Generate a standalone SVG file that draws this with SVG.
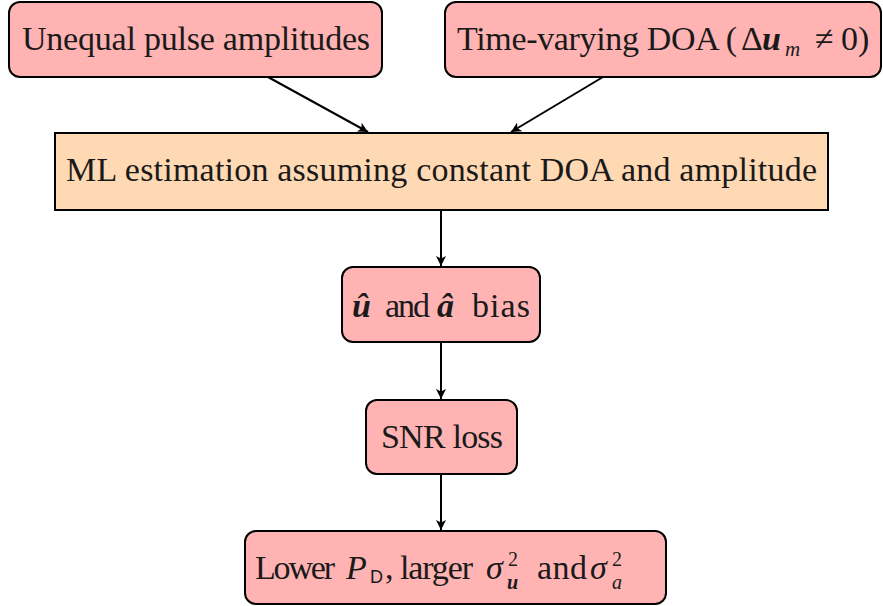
<svg xmlns="http://www.w3.org/2000/svg" width="883" height="606" viewBox="0 0 883 606">
  <defs>
    <marker id="arrow" viewBox="0 0 10 10" refX="10" refY="5" markerWidth="10" markerHeight="10" markerUnits="userSpaceOnUse" orient="auto">
      <path d="M0,0 L10,5 L0,10 L2.5,5 Z" fill="#000"/>
    </marker>
  </defs>
  <style>
    .red { fill: #ffb3b3; stroke: #000; stroke-width: 2; }
    .orange { fill: #ffd9b3; stroke: #000; stroke-width: 2; }
    text { font-family: "Liberation Serif", "DejaVu Serif", serif; font-size: 34px; fill: #1a1a1a; }
    .it { font-style: italic; }
    .bi { font-style: italic; font-weight: bold; }
    .sm { font-size: 21px; }
    .xs { font-size: 20px; }
    .sf { font-family: "Liberation Sans", "DejaVu Sans", sans-serif; font-size: 18px; }
    .edge { stroke: #000; stroke-width: 2; fill: none; marker-end: url(#arrow); }
  </style>

  <g id="connectors">
    <line class="edge" x1="268" y1="77" x2="368" y2="132"/>
    <line class="edge" x1="603" y1="77" x2="511" y2="132"/>
    <line class="edge" x1="441" y1="210" x2="441" y2="266"/>
    <line class="edge" x1="441" y1="342" x2="441" y2="399"/>
    <line class="edge" x1="441" y1="474" x2="441" y2="530"/>
  </g>

  <g id="unequal-amplitudes">
    <rect class="red" x="9" y="2" width="373" height="75" rx="11"/>
    <text x="22" y="50" textLength="348">Unequal pulse amplitudes</text>
  </g>

  <g id="time-varying-doa">
    <rect class="red" x="445" y="2" width="436" height="75" rx="11"/>
    <text x="457" y="50" textLength="280">Time-varying DOA (</text>
    <text x="741" y="50">Δ</text>
    <text class="bi" x="762" y="50">u</text>
    <text class="it sm" x="785" y="56">m</text>
    <text x="815" y="50">≠</text>
    <text x="841" y="50">0)</text>
  </g>

  <g id="ml-estimation">
    <rect class="orange" x="55" y="133" width="773" height="77"/>
    <text x="66" y="181" textLength="751">ML estimation assuming constant DOA and amplitude</text>
  </g>

  <g id="bias">
    <rect class="red" x="342" y="267" width="198" height="75" rx="11"/>
    <text class="bi" x="352" y="317">û</text>
    <text x="385" y="317" textLength="45">and</text>
    <text class="bi" x="437" y="317">â</text>
    <text x="472" y="317" textLength="58">bias</text>
  </g>

  <g id="snr-loss">
    <rect class="red" x="366" y="400" width="151" height="74" rx="11"/>
    <text x="381" y="448" textLength="122">SNR loss</text>
  </g>

  <g id="detection-variance">
    <rect class="red" x="245" y="531" width="421" height="73" rx="11"/>
    <text x="255" y="579" textLength="80">Lower</text>
    <text class="it" x="346" y="579">P</text>
    <text class="sf" x="370" y="583">D</text>
    <text x="385" y="579">,</text>
    <text x="400" y="579" textLength="73">larger</text>
    <text class="it" x="486" y="579">σ</text>
    <text class="xs" x="508" y="566">2</text>
    <text class="bi xs" x="507" y="589">u</text>
    <text x="537" y="579" textLength="50">and</text>
    <text class="it" x="590" y="579">σ</text>
    <text class="xs" x="612" y="566">2</text>
    <text class="it xs" x="612" y="589">a</text>
  </g>
</svg>
